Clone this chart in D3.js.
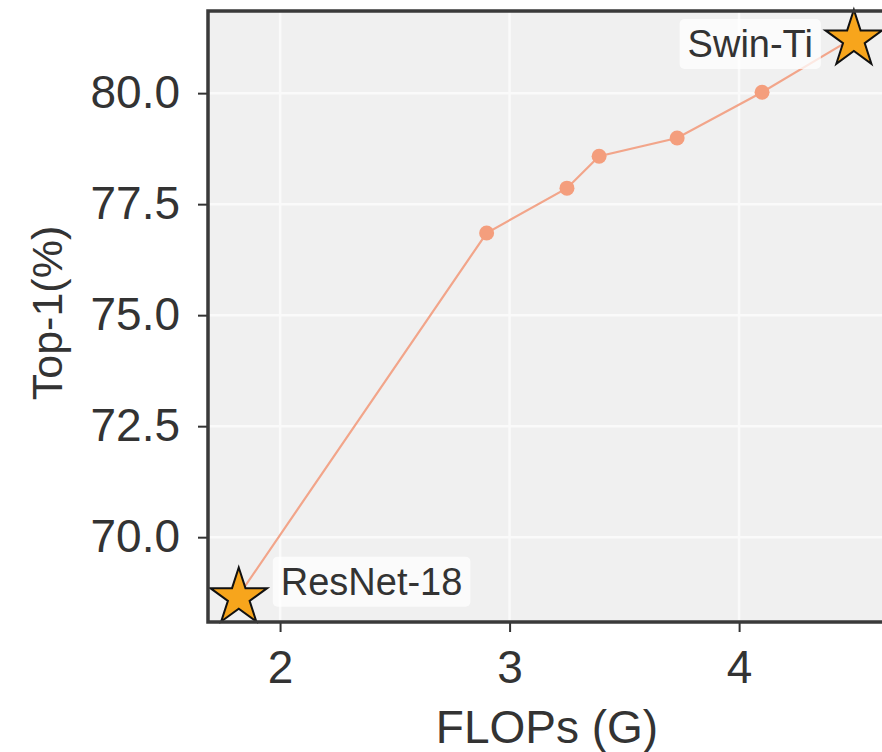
<!DOCTYPE html>
<html>
<head>
<meta charset="utf-8">
<style>
  body { margin: 0; background: #fff; }
  text { font-family: "Liberation Sans", Arial, sans-serif; fill: #333; }
</style>
</head>
<body>
<script src="https://d3js.org/d3.v7.min.js"></script>
<script>
    // FLOPs (G) and Top-1 (%)
    const flops = [1.82, 2.9, 3.25, 3.39, 3.73, 4.1, 4.5];
    const top1 = [68.69, 76.85, 77.86, 78.58, 78.99, 80.02, 81.25];

    const starNames = ["ResNet-18", "Swin-Ti"];
    const starFlops = [1.82, 4.5];
    const starTop1 = [68.69, 81.25];

    const xTicks = [2, 3, 4];
    const yTicks = [70.0, 72.5, 75.0, 77.5, 80.0];

    const width = 882;
    const height = 752;
    const plotLeft = 208, plotTop = 11, plotRight = 886, plotBottom = 622;

    const xScale = d3.scaleLinear()
        .domain([1.686, 4.64])
        .range([plotLeft, plotRight]);

    const yScale = d3.scaleLinear()
        .domain([68.09, 81.85])
        .range([plotBottom, plotTop]);

    const svg = d3.select("body")
        .append("svg")
        .attr("width", width)
        .attr("height", height);

    // plot background
    svg.append("rect")
        .attr("x", plotLeft)
        .attr("y", plotTop)
        .attr("width", plotRight - plotLeft)
        .attr("height", plotBottom - plotTop)
        .attr("fill", "#f0f0f0");

    // grid
    svg.append("g")
        .selectAll("line")
        .data(xTicks)
        .enter()
        .append("line")
        .attr("x1", d => xScale(d))
        .attr("x2", d => xScale(d))
        .attr("y1", plotTop)
        .attr("y2", plotBottom)
        .attr("stroke", "#fafafa")
        .attr("stroke-width", 2.5);

    svg.append("g")
        .selectAll("line")
        .data(yTicks)
        .enter()
        .append("line")
        .attr("x1", plotLeft)
        .attr("x2", plotRight)
        .attr("y1", d => yScale(d))
        .attr("y2", d => yScale(d))
        .attr("stroke", "#fafafa")
        .attr("stroke-width", 2.5);

    // line through all models
    const line = d3.line()
        .x((d, i) => xScale(flops[i]))
        .y(d => yScale(d));

    svg.append("path")
        .datum(top1)
        .attr("d", line)
        .attr("fill", "none")
        .attr("stroke", "#f2a58a")
        .attr("stroke-width", 2.2);

    // inner points (stars drawn separately)
    svg.selectAll("circle")
        .data(top1.slice(1, -1))
        .enter()
        .append("circle")
        .attr("cx", (d, i) => xScale(flops[i + 1]))
        .attr("cy", d => yScale(d))
        .attr("r", 7.5)
        .attr("fill", "#f49e7d");

    // annotation labels with translucent boxes
    const labelFont = 38;
    const labelOffsets = [[42, -14, "start"], [-41, 6, "end"]];

    starNames.forEach((name, i) => {
        const g = svg.append("g");
        const [dx, dy, anchor] = labelOffsets[i];
        const t = g.append("text")
            .attr("x", xScale(starFlops[i]) + dx)
            .attr("y", yScale(starTop1[i]) + dy)
            .attr("dy", "0.35em")
            .attr("text-anchor", anchor)
            .style("font-size", labelFont + "px")
            .text(name);
        const bb = t.node().getBBox();
        g.insert("rect", "text")
            .attr("x", bb.x - 8)
            .attr("y", bb.y - 4)
            .attr("width", bb.width + 16)
            .attr("height", bb.height + 8)
            .attr("rx", 5)
            .attr("fill", "#fff")
            .attr("fill-opacity", 0.75);
    });

    // star markers
    const star = d3.symbol().type(d3.symbolStar).size(1000);
    svg.selectAll("path.star")
        .data(starTop1)
        .enter()
        .append("path")
        .attr("class", "star")
        .attr("d", star)
        .attr("transform", (d, i) => "translate(" + xScale(starFlops[i]) + "," + (yScale(d) + 2) + ")")
        .attr("fill", "#f7a51c")
        .attr("stroke", "#111")
        .attr("stroke-width", 2);

    // axes
    const xAxis = d3.axisBottom(xScale)
        .tickValues(xTicks)
        .tickFormat(d3.format("d"))
        .tickSize(10)
        .tickPadding(18);

    const yAxis = d3.axisLeft(yScale)
        .tickValues(yTicks)
        .tickFormat(d3.format(".1f"))
        .tickSize(10)
        .tickPadding(18);

    const gx = svg.append("g")
        .attr("transform", "translate(0," + plotBottom + ")")
        .call(xAxis);

    const gy = svg.append("g")
        .attr("transform", "translate(" + plotLeft + ",0)")
        .call(yAxis);

    [gx, gy].forEach(g => {
        g.select(".domain").remove();
        g.selectAll(".tick line").attr("stroke", "#333").attr("stroke-width", 2);
        g.selectAll(".tick text")
            .attr("fill", "#333")
            .style("font-size", "46px")
            .style("font-family", "'Liberation Sans', Arial, sans-serif");
    });

    // spines: left, bottom, top
    svg.append("path")
        .attr("d", "M" + plotRight + "," + plotTop + "H" + plotLeft + "V" + plotBottom + "H" + plotRight)
        .attr("fill", "none")
        .attr("stroke", "#3a3a3a")
        .attr("stroke-width", 3.5);

    // axis titles
    svg.append("text")
        .attr("x", 547)
        .attr("y", 743)
        .attr("text-anchor", "middle")
        .style("font-size", "46px")
        .text("FLOPs (G)");

    svg.append("text")
        .attr("transform", "translate(62," + 313 + ") rotate(-90)")
        .attr("text-anchor", "middle")
        .style("font-size", "43px")
        .text("Top-1(%)");
</script>
</body>
</html>
